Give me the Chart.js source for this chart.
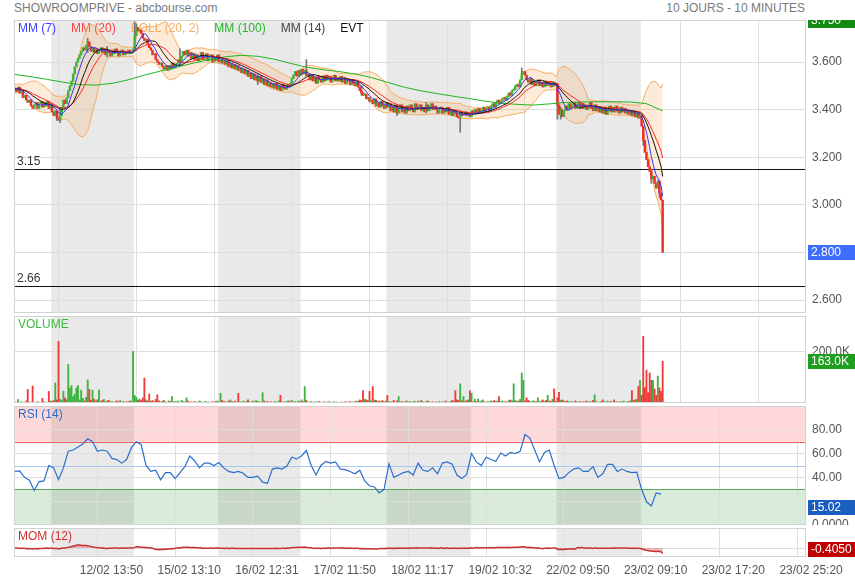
<!DOCTYPE html>
<html>
<head>
<meta charset="utf-8">
<script src="https://cdn.jsdelivr.net/npm/chart.js@4.4.1/dist/chart.umd.min.js"></script>
<style>
  body { margin: 0; width: 855px; height: 580px; background: #fff; position: relative; overflow: hidden;
         font-family: "Liberation Sans", Arial, sans-serif; }
  canvas { position: absolute; left: 0; }
  .t { position: absolute; top: 1px; font-size: 12px; color: #7a7a7a; }
</style>
</head>
<body>
<div class="t" style="left:14px">SHOWROOMPRIVE - abcbourse.com</div>
<div class="t" style="right:50px">10 JOURS - 10 MINUTES</div>
<canvas id="price" width="855" height="293" style="top:20px"></canvas>
<canvas id="vol" width="855" height="87" style="top:316px"></canvas>
<canvas id="rsi" width="855" height="119" style="top:406px"></canvas>
<canvas id="mom" width="855" height="52" style="top:528px"></canvas>
<script>
// sessions (10 min bars per day) and time axis
const sessionDays = ['11/02', '12/02', '15/02', '16/02', '17/02', '18/02', '19/02', '22/02', '23/02'];
const sessionBars = [23, 51, 52, 51, 53, 52, 53, 52, 14];
const tickBars = [51, 99, 147, 195, 243, 291, 339, 387, 435, 483];
const tickLabels = ['12/02 13:50', '15/02 13:10', '16/02 12:31', '17/02 11:50', '18/02 11:17',
                    '19/02 10:32', '22/02 09:50', '23/02 09:10', '23/02 17:20', '23/02 25:20'];

// closes before the window (for the averages)
const preCloses = [3.49, 3.5, 3.48, 3.495, 3.505, 3.49, 3.48, 3.495, 3.475, 3.49,
                   3.5, 3.485, 3.475, 3.49, 3.5, 3.48, 3.495, 3.475, 3.49];

// closes, one per 10 min bar
const closes = [
  3.485, 3.475, 3.495, 3.47, 3.475, 3.45, 3.46, 3.44, 3.43, 3.44,
  3.415, 3.405, 3.42, 3.43, 3.405, 3.425, 3.435, 3.41, 3.43, 3.415,
  3.435, 3.405, 3.425, 3.39, 3.375, 3.395, 3.365, 3.355, 3.375, 3.41,
  3.44, 3.425, 3.45, 3.48, 3.5, 3.52, 3.55, 3.58, 3.6, 3.615,
  3.63, 3.645, 3.66, 3.65, 3.67, 3.685, 3.665, 3.645, 3.66, 3.64,
  3.655, 3.635, 3.65, 3.66, 3.64, 3.655, 3.63, 3.65, 3.64, 3.625,
  3.645, 3.635, 3.655, 3.64, 3.625, 3.645, 3.65, 3.63, 3.645, 3.635,
  3.65, 3.635, 3.64, 3.655, 3.71, 3.745, 3.73, 3.735, 3.72, 3.7,
  3.69, 3.695, 3.675, 3.66, 3.65, 3.63, 3.635, 3.61, 3.6, 3.59,
  3.595, 3.58, 3.57, 3.585, 3.565, 3.585, 3.57, 3.595, 3.575, 3.585,
  3.595, 3.61, 3.6, 3.625, 3.645, 3.63, 3.65, 3.625, 3.64, 3.615,
  3.635, 3.61, 3.63, 3.605, 3.625, 3.64, 3.61, 3.625, 3.635, 3.605,
  3.625, 3.63, 3.6, 3.62, 3.605, 3.63, 3.6, 3.61, 3.595, 3.605,
  3.59, 3.605, 3.58, 3.595, 3.575, 3.59, 3.57, 3.585, 3.565, 3.575,
  3.555, 3.57, 3.55, 3.565, 3.54, 3.555, 3.53, 3.55, 3.525, 3.54,
  3.52, 3.54, 3.515, 3.53, 3.505, 3.525, 3.5, 3.515, 3.495, 3.51,
  3.49, 3.51, 3.485, 3.5, 3.48, 3.505, 3.49, 3.485, 3.505, 3.495,
  3.51, 3.53, 3.545, 3.56, 3.54, 3.565, 3.545, 3.57, 3.55, 3.565,
  3.545, 3.55, 3.525, 3.545, 3.52, 3.535, 3.51, 3.54, 3.525, 3.515,
  3.54, 3.52, 3.545, 3.525, 3.54, 3.515, 3.53, 3.545, 3.52, 3.535,
  3.52, 3.54, 3.515, 3.535, 3.51, 3.53, 3.52, 3.505, 3.525, 3.51,
  3.5, 3.515, 3.495, 3.48, 3.47, 3.46, 3.465, 3.445, 3.45, 3.435,
  3.44, 3.425, 3.445, 3.415, 3.43, 3.41, 3.435, 3.415, 3.405, 3.43,
  3.41, 3.425, 3.395, 3.415, 3.39, 3.42, 3.385, 3.405, 3.42, 3.39,
  3.41, 3.385, 3.415, 3.395, 3.42, 3.4, 3.39, 3.425, 3.4, 3.415,
  3.42, 3.395, 3.41, 3.39, 3.42, 3.395, 3.415, 3.425, 3.4, 3.415,
  3.4, 3.385, 3.405, 3.41, 3.385, 3.4, 3.39, 3.41, 3.38, 3.395,
  3.375, 3.395, 3.385, 3.37, 3.365, 3.39, 3.375, 3.38, 3.39, 3.375,
  3.385, 3.37, 3.395, 3.38, 3.4, 3.385, 3.405, 3.385, 3.395, 3.41,
  3.39, 3.405, 3.41, 3.395, 3.415, 3.425, 3.41, 3.43, 3.44, 3.425,
  3.435, 3.445, 3.45, 3.44, 3.455, 3.47, 3.46, 3.48, 3.485, 3.5,
  3.505, 3.495, 3.525, 3.55, 3.56, 3.545, 3.525, 3.515, 3.53, 3.505,
  3.52, 3.5, 3.515, 3.525, 3.5, 3.515, 3.495, 3.52, 3.5, 3.515,
  3.505, 3.495, 3.515, 3.5, 3.51, 3.42, 3.38, 3.4, 3.37, 3.395,
  3.415, 3.4, 3.425, 3.405, 3.42, 3.43, 3.405, 3.42, 3.43, 3.405,
  3.425, 3.405, 3.42, 3.4, 3.415, 3.43, 3.405, 3.395, 3.42, 3.395,
  3.41, 3.39, 3.405, 3.385, 3.41, 3.38, 3.4, 3.415, 3.39, 3.41,
  3.39, 3.415, 3.395, 3.385, 3.41, 3.39, 3.405, 3.385, 3.395, 3.38,
  3.395, 3.375, 3.39, 3.37, 3.385, 3.365, 3.375, 3.33, 3.27, 3.22,
  3.19, 3.16, 3.14, 3.11, 3.12, 3.09, 3.07, 3.1, 3.05, 3.02,
  2.8
];

// a few visible wicks (bar index, low, high)
const wickIdx = [26, 28, 45, 57, 74, 75, 102, 150, 180, 214, 236, 254, 275, 313, 335, 337, 388, 393, 398];
const wickLo = [3.355, 3.345, 3.64, 3.62, 3.70, 3.72, 3.59, 3.505, 3.54, 3.46, 3.375, 3.385, 3.305, 3.53, 3.36, 3.36, 3.25, 3.09, 3.03];
const wickHi = [3.39, 3.41, 3.70, 3.665, 3.77, 3.76, 3.655, 3.55, 3.61, 3.5, 3.415, 3.43, 3.39, 3.575, 3.50, 3.41, 3.33, 3.15, 3.10];

// volume in thousands
const volumes = [
  4, 3, 13, 2, 5, 3, 2, 8, 53, 4, 2, 66, 3, 2, 5, 3, 1, 18, 6, 2,
  3, 45, 8, 6, 10, 78, 12, 240, 15, 9, 46, 20, 12, 150, 59, 68, 25, 35, 59, 68,
  12, 50, 18, 8, 22, 90, 53, 10, 50, 15, 8, 12, 50, 6, 10, 14, 5, 8, 10, 4,
  6, 3, 5, 8, 4, 10, 3, 6, 2, 5, 4, 8, 6, 200, 30, 22, 12, 15, 10, 20,
  97, 12, 8, 35, 6, 10, 5, 14, 32, 8, 4, 6, 10, 5, 3, 8, 6, 25, 4, 6,
  5, 8, 3, 10, 6, 4, 20, 8, 3, 5, 2, 6, 4, 3, 8, 5, 2, 4, 6, 3,
  4, 2, 5, 3, 6, 8, 4, 38, 10, 6, 5, 3, 8, 12, 6, 4, 7, 3, 38, 5,
  3, 8, 4, 6, 12, 5, 3, 8, 4, 10, 6, 5, 3, 40, 8, 4, 6, 3, 5, 2,
  4, 6, 3, 8, 30, 5, 4, 3, 6, 8, 5, 10, 4, 6, 3, 8, 5, 12, 6, 64,
  10, 4, 3, 6, 2, 5, 3, 4, 6, 2, 3, 5, 2, 4, 6, 3, 2, 5, 3, 4,
  2, 3, 4, 2, 5, 3, 2, 6, 3, 4, 5, 8, 6, 12, 10, 48, 15, 12, 10, 45,
  8, 64, 12, 10, 6, 8, 5, 10, 4, 8, 30, 6, 4, 5, 10, 3, 8, 25, 4, 6,
  3, 5, 8, 4, 6, 3, 5, 7, 3, 8, 4, 10, 5, 3, 6, 8, 4, 3, 5, 2,
  4, 3, 6, 2, 5, 3, 8, 4, 3, 6, 10, 8, 48, 12, 10, 75, 8, 25, 6, 10,
  12, 48, 38, 5, 15, 6, 15, 4, 8, 12, 5, 3, 6, 4, 8, 5, 10, 6, 8, 25,
  5, 8, 4, 6, 3, 10, 12, 8, 75, 10, 6, 8, 14, 117, 88, 8, 20, 10, 6, 4,
  8, 5, 6, 20, 4, 8, 12, 6, 10, 30, 8, 6, 14, 55, 6, 20, 42, 10, 12, 8,
  6, 8, 5, 4, 6, 3, 8, 5, 4, 6, 3, 5, 4, 8, 3, 6, 4, 10, 32, 5,
  4, 3, 6, 12, 5, 3, 8, 4, 6, 3, 12, 4, 5, 3, 6, 4, 8, 3, 5, 6,
  8, 48, 10, 12, 15, 64, 88, 30, 260, 60, 128, 40, 117, 88, 88, 55, 30, 105, 59, 45, 163
];

// RSI (14) read every 3 bars
const rsiStep = 3;
const rsi = [
  45, 45.5, 40, 37.6, 29, 36.5, 37, 50, 48, 38,
  48, 62, 63, 65.5, 68, 72.5, 70, 62, 63, 62,
  56, 55, 52, 55, 65, 70, 67.7, 50, 45, 46,
  38, 44, 44, 39, 44, 49, 58, 54, 48, 52,
  52, 50, 52.5, 48, 45, 44, 45, 43.5, 40, 40,
  41, 36, 35, 47, 48, 47, 49.5, 57, 55.5, 58,
  62.6, 50, 42, 50, 53.5, 52, 53, 47, 46.5, 45,
  43, 46, 37, 33, 32, 27, 30, 51.5, 40, 42,
  44, 45, 42, 52, 46, 45, 48, 43, 52, 53,
  51, 42, 39, 42.5, 60, 53, 50, 57, 55, 53.5,
  60.5, 58, 61, 60, 62, 76, 73, 63, 53, 61,
  63, 50, 39, 40, 44, 47, 48, 45, 45, 49,
  40, 43, 51, 51, 45, 47, 45, 44, 44.5, 30,
  19.5, 16, 27, 26
];

// MM (100) read every 10 bars
const mm100Step = 10;
const mm100 = [
  3.548, 3.538, 3.527, 3.515, 3.505, 3.503, 3.51, 3.525, 3.545, 3.562,
  3.578, 3.595, 3.61, 3.622, 3.628, 3.624, 3.612, 3.595, 3.578, 3.568,
  3.56, 3.55, 3.535, 3.515, 3.495, 3.48, 3.468, 3.457, 3.447, 3.436,
  3.427, 3.422, 3.419, 3.424, 3.43, 3.432, 3.433, 3.433, 3.432, 3.425,
  3.395
];

const levels = [3.15, 2.66];
const highReadout = 3.75;
const rsiReadout = 15.02;
const momReadout = -0.405;

// ---- derived series
const all = preCloses.concat(closes);
const P = preCloses.length;
const opens = closes.map((c, i) => all[i + P - 1]);
const up = closes.map((c, i) => c >= opens[i]);
function win(i, n) { return all.slice(i + P - n + 1, i + P + 1); }
function avg(w) { return w.reduce((a, b) => a + b, 0) / w.length; }
const sma = n => closes.map((c, i) => avg(win(i, n)));
const mm7 = sma(7), mm14 = sma(14), mm20 = sma(20);
const bollUp = [], bollLo = [];
closes.forEach((c, i) => {
  const w = win(i, 20), m = avg(w);
  const sd = Math.sqrt(w.reduce((a, v) => a + (v - m) * (v - m), 0) / w.length);
  bollUp.push(m + 2 * sd); bollLo.push(m - 2 * sd);
});
const mom = closes.map((c, i) => c - all[i + P - 12]);
const pts = (arr, step = 1) => arr.map((v, i) => ({ x: i * step, y: v }));

Chart.defaults.font.family = '"Liberation Sans", Arial, sans-serif';
Chart.defaults.font.size = 12;
Chart.defaults.color = '#555';
const FONT = '12px "Liberation Sans", Arial, sans-serif';
const GRID = '#dedede';
const priceMin = 2.5454, priceMax = 3.7765;

function xAxis(show) {
  return {
    type: 'linear', min: -0.5, max: 488.5, offset: false,
    afterBuildTicks: s => { s.ticks = tickBars.map(v => ({ value: v })); },
    afterFit: s => { s.height = show ? 23 : 0; s.paddingLeft = 0; s.paddingRight = 0; },
    grid: { color: GRID, drawTicks: false },
    border: { display: false },
    ticks: { display: show, autoSkip: false, maxRotation: 0, labelOffset: 14, padding: 6,
             callback: (v, i) => tickLabels[i] }
  };
}
function yAxis(min, max, ticks, fmt) {
  return {
    position: 'right', min, max,
    afterBuildTicks: s => { s.ticks = ticks.map(v => ({ value: v })); },
    afterFit: s => { s.width = 49; s.paddingTop = 0; s.paddingBottom = 0; },
    grid: { color: GRID, drawTicks: false },
    border: { display: false },
    ticks: { display: !!fmt, padding: 6, callback: fmt || (() => '') }
  };
}
function options(x, y) {
  return {
    responsive: false, animation: false, events: [],
    layout: { padding: { left: 14, right: 0, top: 0, bottom: 0 }, autoPadding: false },
    plugins: { legend: { display: false }, tooltip: { enabled: false } },
    scales: { x, y }
  };
}

// panel decorations: day shading, zones, level lines, titles, value boxes, border
function panel(o) {
  return {
    id: 'panel',
    beforeDraw(chart) {
      const { ctx, chartArea: a, scales: { x, y } } = chart;
      ctx.save();
      (o.zones || []).forEach(z => {
        const y0 = y.getPixelForValue(z[1]), y1 = y.getPixelForValue(z[0]);
        ctx.fillStyle = z[2];
        ctx.fillRect(a.left, y0, a.width, y1 - y0);
      });
      let start = 0;
      sessionBars.forEach((n, d) => {
        if (d % 2) {
          const x0 = x.getPixelForValue(start - 0.5), x1 = x.getPixelForValue(start + n - 0.5);
          ctx.fillStyle = 'rgba(0,0,0,0.085)';
          ctx.fillRect(x0, a.top, x1 - x0, a.height);
        }
        start += n;
      });
      ctx.restore();
    },
    beforeDatasetsDraw(chart) {
      const { ctx, chartArea: a, scales: { y } } = chart;
      ctx.save();
      ctx.font = FONT;
      ctx.lineWidth = 1;
      (o.lines || []).forEach(l => {
        const py = Math.round(y.getPixelForValue(l.v)) + 0.5;
        ctx.strokeStyle = l.color;
        ctx.beginPath(); ctx.moveTo(a.left, py); ctx.lineTo(a.right, py); ctx.stroke();
        if (l.label) {
          ctx.fillStyle = '#333'; ctx.textBaseline = 'bottom';
          ctx.fillText(l.label, a.left + 3, py - 2);
        }
      });
      ctx.textBaseline = 'middle';
      let tx = a.left + 4;
      (o.titles || []).forEach(t => {
        ctx.fillStyle = t[1];
        ctx.fillText(t[0], tx, a.top + 8.5);
        tx += ctx.measureText(t[0]).width + 15;
      });
      ctx.restore();
    },
    afterDraw(chart) {
      const { ctx, chartArea: a, scales: { y } } = chart;
      ctx.save();
      ctx.strokeStyle = '#d2d2d2'; ctx.lineWidth = 1;
      ctx.strokeRect(a.left + 0.5, a.top + 0.5, a.width - 1, a.height - 1);
      ctx.font = FONT; ctx.textBaseline = 'middle';
      (o.boxes || []).forEach(b => {
        let cy = y.getPixelForValue(b.v);
        if (b.clamp) cy = Math.min(cy, a.bottom - 7.5);
        ctx.fillStyle = b.color;
        ctx.fillRect(a.right + 2, Math.round(cy - 7.5), 60, 15);
        ctx.fillStyle = '#fff';
        ctx.fillText(b.text, a.right + 5, cy + 0.5);
      });
      ctx.restore();
    }
  };
}

const line = (data, color, w, order) => ({
  type: 'line', data, borderColor: color, borderWidth: w, pointRadius: 0, fill: false, order
});

// price panel
new Chart(document.getElementById('price'), {
  type: 'bar',
  data: {
    datasets: [
      { type: 'line', data: pts(bollUp), borderColor: '#f6aa60', borderWidth: 1, pointRadius: 0,
        fill: '+1', backgroundColor: 'rgba(247,172,98,0.24)', order: 10 },
      line(pts(bollLo), '#f6aa60', 1, 10),
      { data: wickIdx.map((v, k) => ({ x: v, y: [wickLo[k], wickHi[k]] })), backgroundColor: '#777',
        barThickness: 1, grouped: false, order: 9 },
      { data: closes.map((c, i) => ({ x: i, y: [opens[i], c] })),
        backgroundColor: up.map(u => u ? '#3db43d' : '#e8302a'),
        barThickness: 1.8, minBarLength: 1.5, grouped: false, order: 8 },
      line(pts(mm100, mm100Step), '#1fb51f', 1, 5),
      line(pts(mm20), '#ff2222', 1, 4),
      line(pts(mm14), '#111111', 1, 3),
      line(pts(mm7), '#3434ff', 1, 2)
    ]
  },
  options: options(xAxis(false), yAxis(priceMin, priceMax, [2.6, 2.8, 3.0, 3.2, 3.4, 3.6], v => v.toFixed(3))),
  plugins: [panel({
    lines: levels.map(v => ({ v, color: '#111', label: String(v) })),
    titles: [['MM (7)', '#4040ff'], ['MM (20)', '#ff4040'], ['BOLL (20, 2)', '#f7ae64'],
             ['MM (100)', '#22b522'], ['MM (14)', '#444'], ['EVT', '#111']],
    boxes: [{ v: priceMax, text: highReadout.toFixed(3), color: '#138a13' },
            { v: closes[closes.length - 1], text: closes[closes.length - 1].toFixed(3), color: '#3d6dff' }]
  })]
});

// volume panel
new Chart(document.getElementById('vol'), {
  type: 'bar',
  data: {
    datasets: [{ data: pts(volumes), backgroundColor: up.map(u => u ? '#3db43d' : '#f03a3a'),
                 barThickness: 1.2, grouped: false }]
  },
  options: options(xAxis(false), yAxis(0, 339, [200], v => v.toFixed(1) + 'K')),
  plugins: [panel({
    titles: [['VOLUME', '#3cb83c']],
    boxes: [{ v: volumes[volumes.length - 1], text: volumes[volumes.length - 1].toFixed(1) + 'K', color: '#1e9e1e' }]
  })]
});

// RSI panel
new Chart(document.getElementById('rsi'), {
  type: 'line',
  data: { datasets: [line(pts(rsi, rsiStep), '#2a6dcb', 1.2, 1)] },
  options: options(xAxis(false), yAxis(0, 100, [0, 20, 40, 60, 80],
    v => v === 0 ? '0.0000' : (v === 20 ? '' : v.toFixed(2)))),
  plugins: [panel({
    zones: [[70, 100, 'rgba(255,0,0,0.15)'], [0, 30, 'rgba(0,130,0,0.15)']],
    lines: [{ v: 70, color: '#f06060' }, { v: 50, color: '#a8c8f0' }, { v: 30, color: '#5aa55a' }],
    titles: [['RSI (14)', '#2a6dcb']],
    boxes: [{ v: rsiReadout, text: rsiReadout.toFixed(2), color: '#1a5fc0' }]
  })]
});

// MOM panel with the time axis
new Chart(document.getElementById('mom'), {
  type: 'line',
  data: {
    datasets: [{ type: 'line', data: pts(mom), borderColor: '#c83232', borderWidth: 1.5, pointRadius: 0,
                 fill: 'origin', backgroundColor: 'rgba(215,70,70,0.35)' }]
  },
  options: options(xAxis(true), yAxis(-0.78, 1.74, [0], null)),
  plugins: [panel({
    titles: [['MOM (12)', '#d03030']],
    boxes: [{ v: momReadout, text: momReadout.toFixed(4), color: '#c00000', clamp: true }]
  })]
});
</script>
</body>
</html>
